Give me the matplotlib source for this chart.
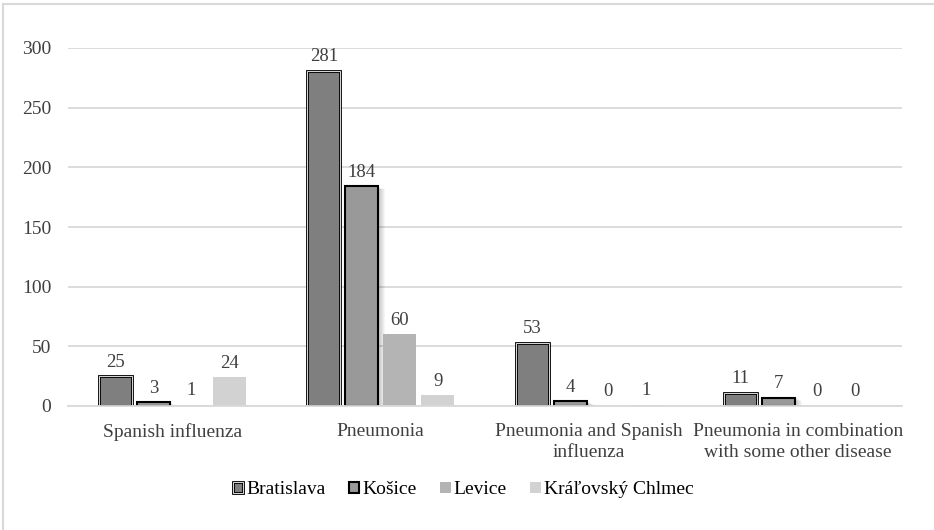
import numpy as np
import matplotlib
matplotlib.use("Agg")
import matplotlib.pyplot as plt
from matplotlib.patches import Rectangle
from matplotlib.legend_handler import HandlerBase

plt.rcParams['font.family'] = ['Liberation Serif', 'DejaVu Serif']

categories = ["Spanish influenza", "Pneumonia", "Pneumonia and Spanish\ninfluenza",
              "Pneumonia in combination\nwith some other disease"]
towns = ["Bratislava", "Košice", "Levice", "Kráľovský Chlmec"]
bratislava = [25, 281, 53, 11]
kosice = [3, 184, 4, 7]
levice = [1, 60, 0, 0]
chlmec = [24, 9, 1, 0]
series = [bratislava, kosice, levice, chlmec]

fills = ["#7f7f7f", "#999999", "#b4b4b4", "#d2d2d2"]
grid_col = "#d9d9d9"
text_col = "#404040"


class DoubleBox(HandlerBase):
    # legend key with a black / white / black outline
    def create_artists(self, legend, orig, xd, yd, w, h, fontsize, trans):
        s = min(w, h)
        x0 = xd * -1 + (w - s) / 2
        y0 = yd * -1 + (h - s) / 2
        outer = Rectangle((x0, y0), s, s, facecolor=orig.get_facecolor(),
                          edgecolor="black", linewidth=2.0, transform=trans)
        inner = Rectangle((x0, y0), s, s, facecolor="none",
                          edgecolor="white", linewidth=0.6, transform=trans)
        return [outer, inner]


fig = plt.figure(figsize=(9.34, 5.30), dpi=100)
ax = fig.add_axes([68 / 934, 1 - 406 / 530, (902 - 68) / 934, 358 / 530])

x = np.arange(len(categories))
slot = 0.182
width = 0.158

handles = []
for i, (vals, col) in enumerate(zip(series, fills)):
    pos = x + (i - 1.5) * slot
    if i == 0:
        # double outline: black, thin white line inside, black again
        b = ax.bar(pos, vals, width, color=col, edgecolor="black", linewidth=2.0, zorder=3)
        ax.bar(pos, vals, width, color="none", edgecolor="white", linewidth=0.6, zorder=4)
    elif i == 1:
        # soft drop shadow to the right
        for k in range(1, 8):
            ax.bar(pos + k * 0.0048, vals, width, bottom=-k * 0.35,
                   color="black", alpha=0.035, linewidth=0, zorder=2)
        b = ax.bar(pos, vals, width, color=col, edgecolor="black", linewidth=1.5, zorder=3)
    else:
        b = ax.bar(pos, vals, width, color=col, linewidth=0, zorder=3)
    handles.append(b[0])
    for p, v in zip(pos, vals):
        ax.annotate(str(v), (p, v), xytext=(0, 4), textcoords="offset points",
                    ha="center", va="bottom", fontsize=13.5, color=text_col)

ax.set_ylim(0, 300)
ax.set_xlim(-0.5, len(categories) - 0.5)
ax.set_yticks(range(0, 301, 50))
ax.yaxis.grid(True, color=grid_col, linewidth=1.3)
ax.set_axisbelow(True)
for s in ["top", "right", "left"]:
    ax.spines[s].set_visible(False)
ax.spines["bottom"].set_color(grid_col)
ax.spines["bottom"].set_linewidth(1.3)
ax.spines["bottom"].set_zorder(5)
ax.set_xticks(x)
ax.set_xticklabels(categories)
ax.tick_params(axis="both", length=0, labelsize=14, colors=text_col)
ax.tick_params(axis="x", pad=12)
ax.tick_params(axis="y", pad=12)
for lab in ax.get_xticklabels():
    lab.set_linespacing(1.3)

leg = fig.legend(handles, towns, loc="center", bbox_to_anchor=(463 / 934, 1 - 490 / 530),
                 ncol=4, frameon=False, fontsize=14, handlelength=0.55, handleheight=0.55,
                 handletextpad=0.15, columnspacing=1.2,
                 handler_map={handles[0]: DoubleBox()})
for t in leg.get_texts():
    t.set_color("black")

# light frame around the chart area
fig.patches.append(Rectangle((3 / 934, -0.05), 1.05, 0.05 + 1 - 4 / 530,
                             transform=fig.transFigure, fill=False,
                             edgecolor=grid_col, linewidth=1.5))

fig.savefig("out.png", dpi=100)
